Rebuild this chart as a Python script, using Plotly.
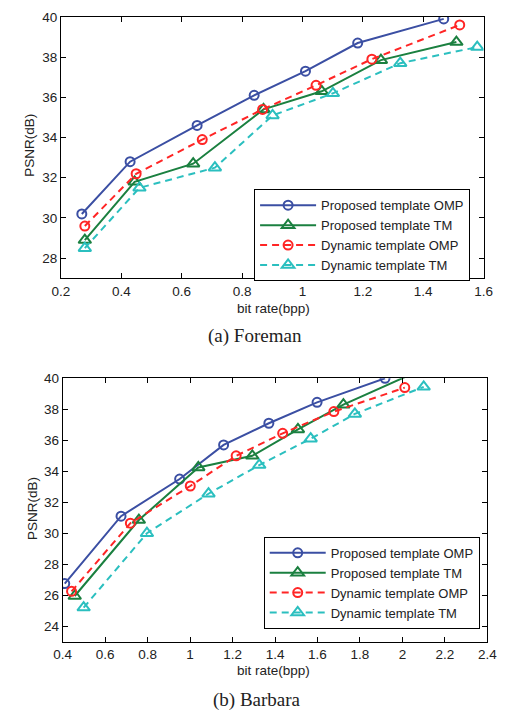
import plotly.graph_objects as go

# (a) Foreman
fx_pomp = [0.269, 0.429, 0.651, 0.840, 1.010, 1.183, 1.468]
fy_pomp = [30.2, 32.8, 34.6, 36.1, 37.3, 38.7, 39.9]
fx_ptm = [0.279, 0.444, 0.638, 0.871, 1.064, 1.260, 1.510]
fy_ptm = [28.9, 31.8, 32.7, 35.4, 36.3, 37.85, 38.75]
fx_domp = [0.279, 0.449, 0.668, 0.868, 1.045, 1.230, 1.521]
fy_domp = [29.6, 32.2, 33.9, 35.4, 36.6, 37.9, 39.6]
fx_dtm = [0.279, 0.460, 0.710, 0.901, 1.101, 1.324, 1.579]
fy_dtm = [28.5, 31.5, 32.5, 35.1, 36.2, 37.7, 38.5]

# (b) Barbara
bx_pomp = [0.41, 0.675, 0.951, 1.158, 1.371, 1.598, 1.918]
by_pomp = [26.75, 31.1, 33.5, 35.7, 37.1, 38.45, 40.0]
bx_ptm = [0.457, 0.759, 1.039, 1.293, 1.508, 1.722, 2.08]
by_ptm = [25.95, 30.85, 34.25, 35.0, 36.7, 38.3, 40.5]
bx_domp = [0.442, 0.719, 1.001, 1.217, 1.436, 1.677, 2.011]
by_domp = [26.25, 30.65, 33.05, 35.0, 36.45, 37.85, 39.4]
bx_dtm = [0.499, 0.797, 1.087, 1.326, 1.568, 1.776, 2.10]
by_dtm = [25.2, 30.0, 32.55, 34.4, 36.1, 37.7, 39.45]

names = ["Proposed template OMP", "Proposed template TM",
         "Dynamic template OMP", "Dynamic template TM"]
colors = ["#3b4fa3", "#1b8040", "#ff2525", "#2bbfbf"]
dashes = ["solid", "solid", "7px,5px", "7px,5px"]
symbols = ["circle-open", "triangle-up-open", "circle-open", "triangle-up-open"]
sizes = [9, 11, 9, 11]

W, H = 508, 712
SANS = "Liberation Sans"
fig = go.Figure()

sets = [
    ("x", "y", "legend", [(fx_pomp, fy_pomp), (fx_ptm, fy_ptm), (fx_domp, fy_domp), (fx_dtm, fy_dtm)]),
    ("x2", "y2", "legend2", [(bx_pomp, by_pomp), (bx_ptm, by_ptm), (bx_domp, by_domp), (bx_dtm, by_dtm)]),
]
for xa, ya, lg, series in sets:
    for i, (xs, ys) in enumerate(series):
        fig.add_trace(go.Scatter(
            x=xs, y=ys, name=names[i], mode="lines+markers",
            xaxis=xa, yaxis=ya, legend=lg, cliponaxis=True,
            line=dict(color=colors[i], width=2, dash=dashes[i]),
            marker=dict(symbol=symbols[i], size=sizes[i],
                        line=dict(color=colors[i], width=2)),
        ))

axis_style = dict(showline=True, mirror="allticks", linecolor="black", linewidth=1,
                  ticks="inside", ticklen=5, tickcolor="black", showgrid=False,
                  zeroline=False, tickfont=dict(family=SANS, size=13.5, color="#222"))

legend_style = dict(xanchor="right", yanchor="bottom", bgcolor="white",
                    bordercolor="black", borderwidth=1,
                    font=dict(family=SANS, size=13, color="#222"),
                    tracegroupgap=0, itemwidth=56)

fig.update_layout(
    width=W, height=H, margin=dict(l=0, r=0, t=0, b=0),
    plot_bgcolor="white", paper_bgcolor="white",
    xaxis=dict(domain=[54 / W, 493 / W], range=[0.2, 1.6], dtick=0.2, anchor="y", **axis_style),
    yaxis=dict(domain=[1 - 274 / H, 1 - 10 / H], range=[27, 40], dtick=2, anchor="x", **axis_style),
    xaxis2=dict(domain=[55.7 / W, 497 / W], range=[0.4, 2.4], dtick=0.2, anchor="y2", **axis_style),
    yaxis2=dict(domain=[1 - 641 / H, 1 - 375 / H], range=[23, 40], dtick=2, anchor="x2", **axis_style),
    legend=dict(x=479 / W, y=1 - 277 / H, **legend_style),
    legend2=dict(x=489 / W, y=1 - 628 / H, **legend_style),
    showlegend=True,
)

labels = [
    ("bit rate(bpp)", 275, 304, 13.5, SANS, 0),
    ("PSNR(dB)", 21, 140, 13.5, SANS, -90),
    ("(a) Foreman", 256, 332, 19, "Liberation Serif", 0),
    ("bit rate(bpp)", 275, 670, 13.5, SANS, 0),
    ("PSNR(dB)", 24, 507, 13.5, SANS, -90),
    ("(b) Barbara", 258, 700, 19, "Liberation Serif", 0),
]
for txt, px, py, sz, fam, ang in labels:
    fig.add_annotation(text=txt, x=px / W, y=1 - py / H, xref="paper", yref="paper",
                       showarrow=False, textangle=ang, xanchor="center", yanchor="middle",
                       font=dict(family=fam, size=sz, color="#222"))

# page body has an 8px default margin; drop it so the figure sits at 0,0
fig.write_html("out.html", config={"displayModeBar": False},
               post_script="document.body.style.margin='0';")
